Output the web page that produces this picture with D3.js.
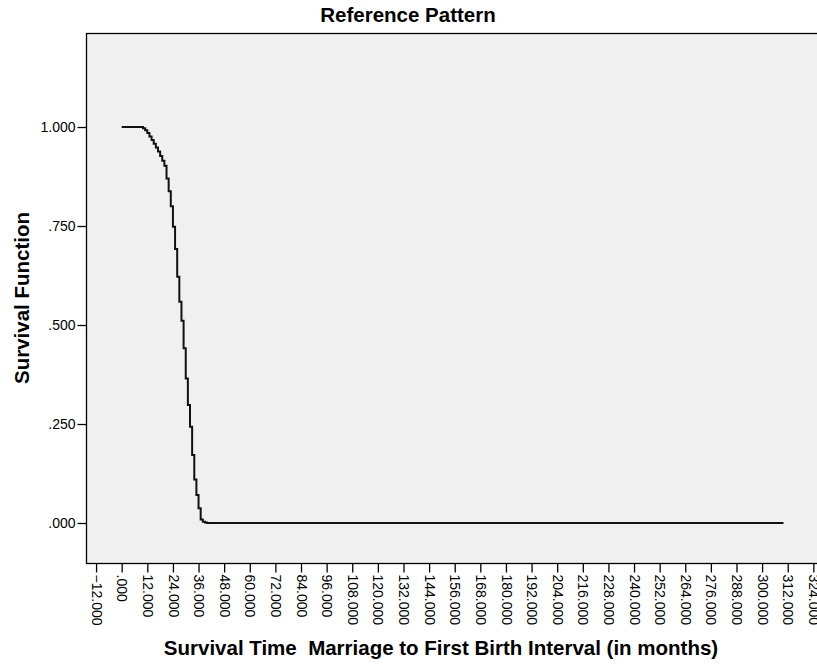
<!DOCTYPE html>
<html>
<head>
<meta charset="utf-8">
<script src="https://cdn.jsdelivr.net/npm/d3@7/dist/d3.min.js"></script>
<style>
  html, body { margin: 0; padding: 0; background: #ffffff; }
  svg { display: block; font-family: "Liberation Sans", Arial, sans-serif; }
</style>
</head>
<body>
<svg id="chart" width="817" height="666"></svg>
<script>
// Kaplan-Meier survival estimate, months from marriage to first birth
const months = [0, 9, 10, 11, 12, 13, 14, 15, 16, 17, 18, 19, 20, 21, 22, 23, 24, 25, 26, 27, 28, 29,
  30, 31, 32, 33, 34, 35, 36, 37, 38, 39, 40, 310];
const survival = [1.000, 1.000, 0.997, 0.992, 0.985, 0.976, 0.967, 0.958, 0.948, 0.938, 0.927, 0.915,
  0.902, 0.870, 0.838, 0.800, 0.748, 0.692, 0.622, 0.559, 0.511, 0.441, 0.365, 0.298, 0.243,
  0.172, 0.110, 0.071, 0.037, 0.009, 0.003, 0.001, 0.000, 0.000];

const xTicks = d3.range(-12, 325, 12);
const yTicks = [0, 0.25, 0.5, 0.75, 1.0];

const chartTitle = "Reference Pattern";
const xTitle = "Survival Time  Marriage to First Birth Interval (in months)";
const yTitle = "Survival Function";

const svg = d3.select("#chart");

const plot = { left: 86, top: 33, right: 830, bottom: 563 };

const x = d3.scaleLinear().domain([-16.72, 331.8]).range([plot.left, plot.right]);
const y = d3.scaleLinear().domain([-0.101, 1.2374]).range([plot.bottom, plot.top]);

// SPSS-style number labels: three decimals, no leading zero
const fmt = v => d3.format(".3f")(v).replace(/^0\./, ".").replace(/^-0\./, "-.");

// plot frame
svg.append("rect")
  .attr("x", plot.left + 0.5).attr("y", plot.top + 0.5)
  .attr("width", plot.right - plot.left).attr("height", plot.bottom - plot.top)
  .attr("fill", "#f0f0f0")
  .attr("stroke", "#000").attr("stroke-width", 1.3);

// y axis
const yAxis = d3.axisLeft(y).tickValues(yTicks).tickFormat(fmt).tickSize(9).tickPadding(2);
svg.append("g")
  .attr("transform", `translate(${plot.left + 0.5},0)`)
  .call(yAxis)
  .call(g => g.select(".domain").remove())
  .call(g => g.selectAll("line").attr("stroke", "#000").attr("stroke-width", 1.3))
  .call(g => g.selectAll("text").attr("font-size", 14).attr("fill", "#000")
    .attr("font-family", "'Liberation Sans', Arial, sans-serif"));

// x axis with vertical labels
const xAxis = d3.axisBottom(x).tickValues(xTicks).tickFormat(fmt).tickSize(9).tickPadding(2);
svg.append("g")
  .attr("transform", `translate(0,${plot.bottom + 0.5})`)
  .call(xAxis)
  .call(g => g.select(".domain").remove())
  .call(g => g.selectAll("line").attr("stroke", "#000").attr("stroke-width", 1.3))
  .call(g => g.selectAll("text")
    .attr("font-size", 14).attr("fill", "#000")
    .attr("font-family", "'Liberation Sans', Arial, sans-serif")
    .attr("transform", "rotate(90)")
    .attr("x", 11).attr("y", 0).attr("dy", "0.35em")
    .attr("text-anchor", "start"));

// survival step curve
const line = d3.line()
  .x(d => x(d[0]))
  .y(d => y(d[1]))
  .curve(d3.curveStepAfter);

svg.append("path")
  .datum(months.map((m, i) => [m, survival[i]]))
  .attr("d", line)
  .attr("fill", "none")
  .attr("stroke", "#111")
  .attr("stroke-width", 2);

// titles
svg.append("text")
  .attr("x", 408).attr("y", 22)
  .attr("text-anchor", "middle")
  .attr("font-size", 20.5).attr("font-weight", "bold")
  .text(chartTitle);

svg.append("text")
  .attr("x", 441).attr("y", 655)
  .attr("text-anchor", "middle")
  .attr("font-size", 20.5).attr("font-weight", "bold")
  .attr("xml:space", "preserve")
  .style("white-space", "pre")
  .text(xTitle);

svg.append("text")
  .attr("transform", "translate(29,298) rotate(-90)")
  .attr("text-anchor", "middle")
  .attr("font-size", 20.5).attr("font-weight", "bold")
  .text(yTitle);
</script>
</body>
</html>
